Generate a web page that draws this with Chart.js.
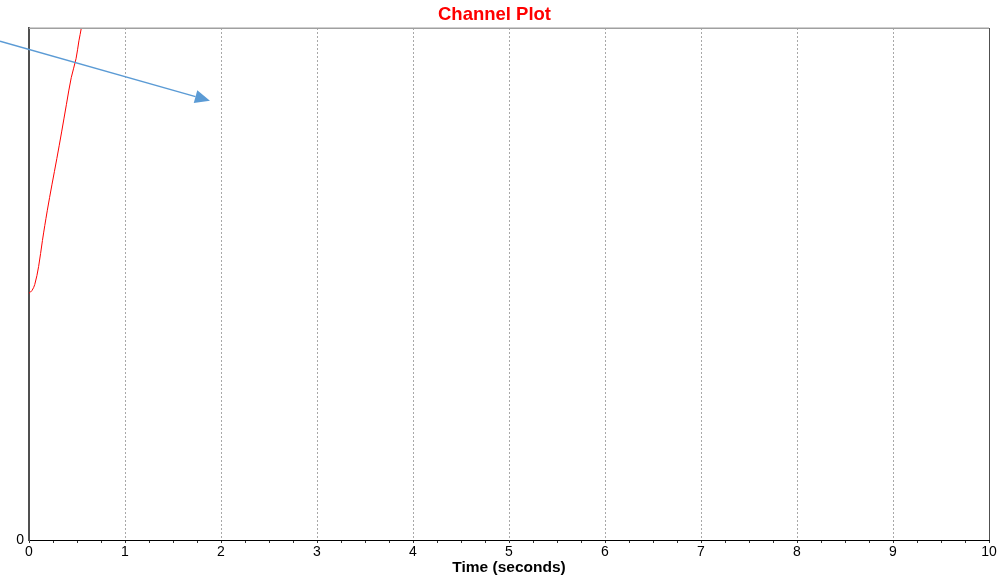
<!DOCTYPE html>
<html>
<head>
<meta charset="utf-8">
<title>Channel Plot</title>
<script src="https://cdn.jsdelivr.net/npm/chart.js@4/dist/chart.umd.min.js"></script>
<style>
  html, body { margin: 0; padding: 0; background: #fff; }
  #wrap { width: 1007px; height: 577px; }
</style>
</head>
<body>
<div id="wrap"><canvas id="plot" width="1007" height="577"></canvas></div>
<script>
// Channel response over time
const timeSeconds = [0, 0.03, 0.06, 0.10, 0.14, 0.19, 0.24, 0.29, 0.34, 0.39, 0.44, 0.49, 0.52, 0.545, 0.60];
const channelValues = [0.482, 0.487, 0.499, 0.534, 0.585, 0.643, 0.695, 0.745, 0.797, 0.851, 0.903, 0.940, 0.975, 1.0, 1.07];

// Axis ranges and labels
const xRange = [0, 10];
const yRange = [0, 1];
const xTickStep = 0.25;
const yTickLabels = ['0'];

// Pointer annotation, from / to, in (seconds, value)
const arrowFrom = [-0.302, 0.974];
const arrowTo = [1.885, 0.858];

const points = timeSeconds.map((t, i) => ({ x: t, y: channelValues[i] }));

const framePlugin = {
  id: 'frame',
  afterDraw(chart) {
    const { ctx, chartArea: a } = chart;
    ctx.save();
    ctx.lineWidth = 1.5;
    ctx.strokeStyle = '#a0a0a0';
    ctx.beginPath();
    ctx.moveTo(a.left, a.top + 0.25);
    ctx.lineTo(a.right, a.top + 0.25);
    ctx.stroke();
    ctx.lineWidth = 1;
    ctx.strokeStyle = '#505050';
    ctx.beginPath();
    ctx.moveTo(a.right + 0.5, a.top);
    ctx.lineTo(a.right + 0.5, a.bottom);
    ctx.stroke();
    ctx.restore();
  }
};

const arrowPlugin = {
  id: 'arrow',
  afterDraw(chart) {
    const { ctx } = chart;
    const xs = chart.scales.x, ys = chart.scales.y;
    const x0 = xs.getPixelForValue(arrowFrom[0]), y0 = ys.getPixelForValue(arrowFrom[1]);
    const x1 = xs.getPixelForValue(arrowTo[0]), y1 = ys.getPixelForValue(arrowTo[1]);
    const ang = Math.atan2(y1 - y0, x1 - x0);
    const headLen = 15, headHalf = 6.5;
    const bx = x1 - headLen * Math.cos(ang), by = y1 - headLen * Math.sin(ang);
    ctx.save();
    ctx.strokeStyle = '#5b9bd5';
    ctx.fillStyle = '#5b9bd5';
    ctx.lineWidth = 1.5;
    ctx.beginPath();
    ctx.moveTo(x0, y0);
    ctx.lineTo(bx, by);
    ctx.stroke();
    ctx.beginPath();
    ctx.moveTo(x1, y1);
    ctx.lineTo(bx + headHalf * Math.sin(ang), by - headHalf * Math.cos(ang));
    ctx.lineTo(bx - headHalf * Math.sin(ang), by + headHalf * Math.cos(ang));
    ctx.closePath();
    ctx.fill();
    ctx.restore();
  }
};

new Chart(document.getElementById('plot'), {
  type: 'line',
  data: {
    datasets: [{
      data: points,
      borderColor: '#ff0000',
      borderWidth: 1,
      pointRadius: 0,
      fill: false,
      tension: 0.35
    }]
  },
  options: {
    responsive: false,
    animation: false,
    events: [],
    layout: { padding: { left: 0, right: 18, top: 0, bottom: 0 } },
    plugins: {
      legend: { display: false },
      tooltip: { enabled: false },
      title: {
        display: true,
        text: 'Channel Plot',
        color: '#ff0000',
        font: { family: 'Liberation Sans, Arial, sans-serif', size: 18.5, weight: 'bold', lineHeight: 1.2 },
        padding: { top: 4, bottom: 1.8 }
      }
    },
    scales: {
      x: {
        type: 'linear',
        min: xRange[0],
        max: xRange[1],
        afterFit(scale) { scale.height = 37; },
        ticks: {
          stepSize: xTickStep,
          autoSkip: false,
          maxRotation: 0,
          padding: 1,
          color: '#000',
          font: { family: 'Liberation Sans, Arial, sans-serif', size: 14 },
          callback: (v) => Number.isInteger(v) ? String(v) : ''
        },
        grid: {
          display: true,
          drawOnChartArea: true,
          drawTicks: true,
          tickLength: 3,
          tickColor: '#333',
          tickWidth: 1,
          lineWidth: 1,
          color: (c) => {
            const v = c.tick ? c.tick.value : null;
            return (v !== null && Number.isInteger(v) && v > xRange[0] && v < xRange[1]) ? '#a8a8a8' : 'rgba(0,0,0,0)';
          }
        },
        border: { display: true, color: '#000', width: 1, dash: [2, 2] },
        title: {
          display: true,
          text: 'Time (seconds)',
          color: '#000',
          font: { family: 'Liberation Sans, Arial, sans-serif', size: 15.5, weight: 'bold', lineHeight: 1.2 },
          padding: { top: 0, bottom: 0 }
        }
      },
      y: {
        type: 'linear',
        min: yRange[0],
        max: yRange[1],
        afterFit(scale) { scale.width = 29; },
        ticks: {
          stepSize: 1,
          padding: 5,
          color: '#000',
          font: { family: 'Liberation Sans, Arial, sans-serif', size: 14 },
          callback: (v, i) => yTickLabels[i] !== undefined ? yTickLabels[i] : ''
        },
        grid: { display: false, drawTicks: false },
        border: { display: true, color: '#505050', width: 2 }
      }
    }
  },
  plugins: [framePlugin, arrowPlugin]
});
</script>
</body>
</html>
